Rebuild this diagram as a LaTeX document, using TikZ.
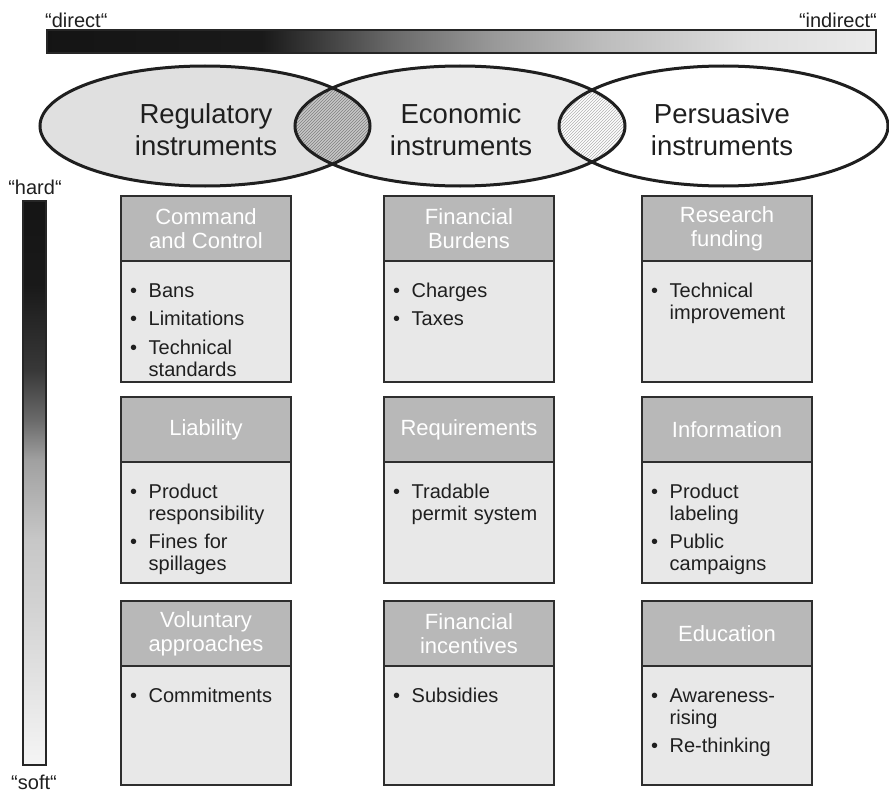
\documentclass[tikz,border=0pt]{standalone}
\usepackage{fontspec}
\setmainfont{Liberation Sans}
\usetikzlibrary{patterns}
\newcommand{\lblfont}{\fontsize{20}{22}\selectfont}
\newcommand{\insfont}{\fontsize{27.5}{32}\selectfont}
\newcommand{\hdfont}{\fontsize{22}{24}\selectfont}
\newcommand{\itmfont}{\fontsize{20}{22}\selectfont}
\newcommand{\itm}[1]{\par\noindent\hangindent=18.5pt\hangafter=1\hbox to 18.5pt{\textbullet\hss}#1\par\vskip6.3pt}
\pgfdeclarehorizontalshading{dirshade}{100bp}{color(0bp)=(black!92); color(25bp)=(black!92); color(38bp)=(black!90); color(40bp)=(black!82); color(46bp)=(black!58); color(52bp)=(black!40); color(58.5bp)=(black!26); color(67.5bp)=(black!13); color(75bp)=(black!8); color(100bp)=(black!8)}
\pgfdeclareverticalshading{hardshade}{100bp}{color(0bp)=(black!4); color(25bp)=(black!4); color(39.5bp)=(black!18); color(45bp)=(black!22); color(52bp)=(black!37); color(55.5bp)=(black!58); color(60bp)=(black!78); color(67.5bp)=(black!90); color(75bp)=(black!92); color(100bp)=(black!92)}
\tikzstyle{lbl}=[inner sep=0pt, font=\lblfont, text=black!88]
\tikzstyle{ins}=[inner sep=0pt, align=center, font=\insfont, text=black!88]
\tikzstyle{hd}=[draw=black!82, line width=2.5pt, fill=black!28, minimum width=170pt, minimum height=65pt, inner sep=0pt, outer sep=0pt, align=center, text=white, font=\hdfont]
\tikzstyle{bd}=[draw=black!82, line width=2.5pt, fill=black!9, minimum width=170pt, inner sep=0pt, outer sep=0pt, anchor=north]
\tikzstyle{items}=[anchor=base west, inner sep=0pt, text width=155pt, align=left, font=\itmfont, text=black!88]
\tikzstyle{bar}=[draw=black!85, line width=2pt]
\tikzstyle{rim}=[draw=black!88, line width=3pt]

\begin{document}
\begin{tikzpicture}[x=1pt, y=-1pt]
	\useasboundingbox (0,0) rectangle (889,792);
	% scales
	\shade[shading=dirshade] (47,30) rectangle (876,53);
	\draw[bar] (47,30) rectangle (876,53);
	\draw (45,28) node[lbl, anchor=base west] (direct) {“direct“};
	\draw (877,28) node[lbl, anchor=base east] (indirect) {“indirect“};
	\shade[shading=hardshade] (23,201) rectangle (46,765);
	\draw[bar] (23,201) rectangle (46,765);
	\draw (35,194) node[lbl, anchor=base] (hard) {“hard“};
	\draw (34,789) node[lbl, anchor=base] (soft) {“soft“};
	% instruments
	\fill[black!12] (205,126) ellipse [x radius=165pt, y radius=60pt];
	\fill[black!8] (460,126) ellipse [x radius=165pt, y radius=60pt];
	\fill[white] (723.5,126) ellipse [x radius=164.5pt, y radius=60pt];
	\begin{scope}
		\clip (205,126) ellipse [x radius=165pt, y radius=60pt];
		\fill[black!22] (460,126) ellipse [x radius=165pt, y radius=60pt];
		\fill[pattern=north east lines, pattern color=black!50] (460,126) ellipse [x radius=165pt, y radius=60pt];
	\end{scope}
	\begin{scope}
		\clip (460,126) ellipse [x radius=165pt, y radius=60pt];
		\fill[white] (723.5,126) ellipse [x radius=164.5pt, y radius=60pt];
		\fill[pattern=north east lines, pattern color=black!30] (723.5,126) ellipse [x radius=164.5pt, y radius=60pt];
	\end{scope}
	\draw[rim] (205,126) ellipse [x radius=165pt, y radius=60pt];
	\draw[rim] (460,126) ellipse [x radius=165pt, y radius=60pt];
	\draw[rim] (723.5,126) ellipse [x radius=164.5pt, y radius=60pt];
	\draw (206,130) node[ins] (reg) {Regulatory\\instruments};
	\draw (461,130) node[ins] (eco) {Economic\\instruments};
	\draw (722,130) node[ins] (per) {Persuasive\\instruments};
	% row 1
	\draw (206,228.5) node[hd] (h11) {Command\\and Control};
	\draw (469,228.5) node[hd] (h12) {Financial\\Burdens};
	\draw (727,228.5) node[hd] (h13) {Research\\funding};
	\draw (h11.south) node[bd, minimum height=121pt] (b11) {};
	\draw (h12.south) node[bd, minimum height=121pt] (b12) {};
	\draw (h13.south) node[bd, minimum height=121pt] (b13) {};
	\draw ([xshift=9pt, yshift=-14.5pt]h11.south west) node[items] {\itm{Bans}\itm{Limitations}\itm{Technical\newline standards}};
	\draw ([xshift=9pt, yshift=-14.5pt]h12.south west) node[items] {\itm{Charges}\itm{Taxes}};
	\draw ([xshift=9pt, yshift=-14.5pt]h13.south west) node[items] {\itm{Technical\newline improvement}};
	% row 2
	\draw (206,429.5) node[hd] (h21) {Liability};
	\draw (469,429.5) node[hd] (h22) {Requirements};
	\draw (727,429.5) node[hd] (h23) {Information};
	\draw (h21.south) node[bd, minimum height=121pt] (b21) {};
	\draw (h22.south) node[bd, minimum height=121pt] (b22) {};
	\draw (h23.south) node[bd, minimum height=121pt] (b23) {};
	\draw ([xshift=9pt, yshift=-14.5pt]h21.south west) node[items] {\itm{Product\newline responsibility}\itm{Fines for\newline spillages}};
	\draw ([xshift=9pt, yshift=-14.5pt]h22.south west) node[items] {\itm{Tradable\newline permit system}};
	\draw ([xshift=9pt, yshift=-14.5pt]h23.south west) node[items] {\itm{Product\newline labeling}\itm{Public\newline campaigns}};
	% row 3
	\draw (206,633.5) node[hd] (h31) {Voluntary\\approaches};
	\draw (469,633.5) node[hd] (h32) {Financial\\incentives};
	\draw (727,633.5) node[hd] (h33) {Education};
	\draw (h31.south) node[bd, minimum height=119pt] (b31) {};
	\draw (h32.south) node[bd, minimum height=119pt] (b32) {};
	\draw (h33.south) node[bd, minimum height=119pt] (b33) {};
	\draw ([xshift=9pt, yshift=-14.5pt]h31.south west) node[items] {\itm{Commitments}};
	\draw ([xshift=9pt, yshift=-14.5pt]h32.south west) node[items] {\itm{Subsidies}};
	\draw ([xshift=9pt, yshift=-14.5pt]h33.south west) node[items] {\itm{Awareness-\newline rising}\itm{Re-thinking}};
\end{tikzpicture}
\end{document}
